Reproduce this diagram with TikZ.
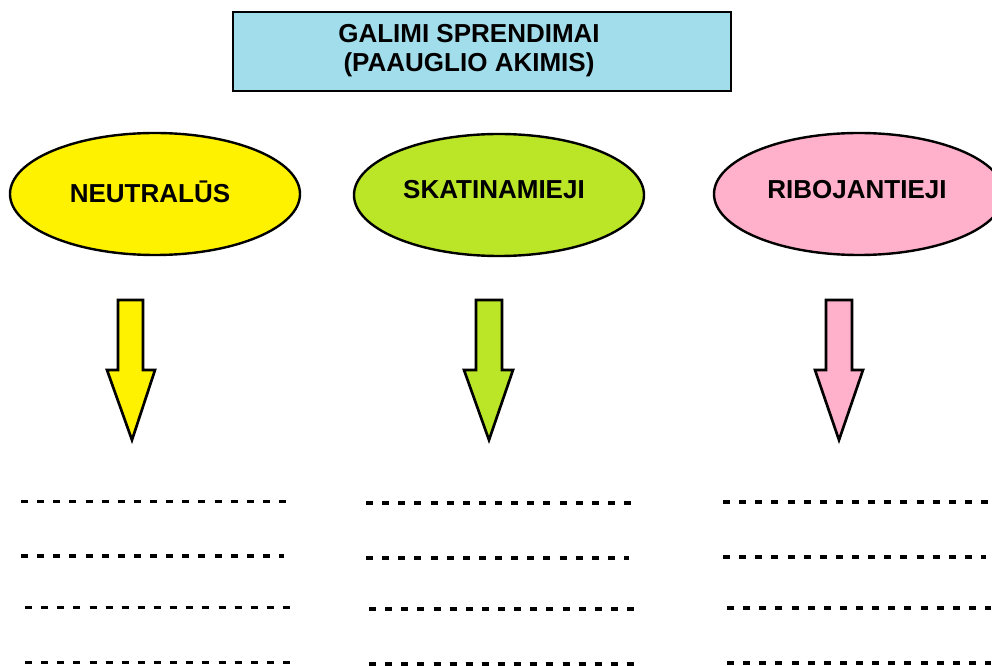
\documentclass[tikz,border=0pt]{standalone}
\usepackage{fontspec}
\setmainfont{Liberation Sans}
\usetikzlibrary{shapes.geometric}
\definecolor{tblue}{RGB}{162,221,235}
\definecolor{tyellow}{RGB}{255,242,0}
\definecolor{tgreen}{RGB}{187,230,40}
\definecolor{tpink}{RGB}{255,176,202}
\begin{document}
\begin{tikzpicture}[x=0.75pt,y=-0.75pt,
  lbl/.style={font=\fontsize{19.5}{21.75}\selectfont\bfseries, align=center, inner sep=0pt},
  titlebox/.style={draw=black, line width=2pt, fill=tblue, minimum width=373.5pt, minimum height=59.25pt, inner sep=0pt},
  oval/.style={ellipse, draw=black, line width=1.8pt, minimum width=217.5pt, minimum height=91.5pt, inner sep=0pt},
  blockarrow/.style={draw=black, line width=2pt, line join=miter},
  answer/.style={line width=2.4pt, dash pattern=on 5.25pt off 6.85pt}]
\useasboundingbox (0,0) rectangle (992,666);
% title
\node[titlebox] (title) at (482,51.5) {};
\node[lbl] (titletext) at (469,50.5) {GALIMI SPRENDIMAI\\(PAAUGLIO AKIMIS)};
% ellipses
\node[oval, fill=tyellow] (neu) at (155,194) {};
\node[lbl] (neutext) at (150,192) {NEUTRALŪS};
\node[oval, fill=tgreen] (ska) at (499,195) {};
\node[lbl] (skatext) at (494,190) {SKATINAMIEJI};
\node[oval, fill=tpink] (rib) at (859,194) {};
\node[lbl] (ribtext) at (857,190) {RIBOJANTIEJI};
% block arrows
\draw[blockarrow, fill=tyellow] (118,300) -- (143,300) -- (143,370) -- (155,370) -- (132,440) -- (107,370) -- (118,370) -- cycle;
\draw[blockarrow, fill=tgreen] (476,300) -- (502,300) -- (502,370) -- (513,370) -- (489,440) -- (464,370) -- (476,370) -- cycle;
\draw[blockarrow, fill=tpink] (826,300) -- (852,300) -- (852,370) -- (863,370) -- (839,440) -- (815,370) -- (826,370) -- cycle;
% answer lines
\draw[answer] (21,501.5) -- (286,501.5);
\draw[answer] (21,556) -- (284,556);
\draw[answer] (25,607.5) -- (290,607.5);
\draw[answer] (25,662.5) -- (290,662.5);
\draw[answer] (366,503) -- (631,503);
\draw[answer] (366,558) -- (629,558);
\draw[answer] (369,609) -- (634,609);
\draw[answer] (369,664) -- (634,664);
\draw[answer] (723,502) -- (988,502);
\draw[answer] (723,557) -- (986,557);
\draw[answer] (727,608) -- (991,608);
\draw[answer] (727,663) -- (991,663);
\end{tikzpicture}
\end{document}
